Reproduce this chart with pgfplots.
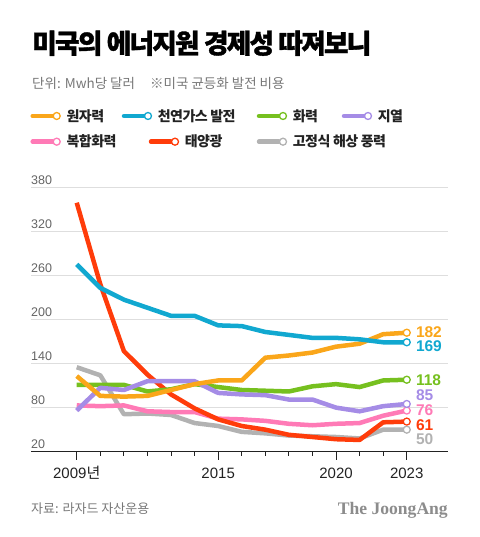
\documentclass[border=0pt]{standalone}
\usepackage{fontspec}
\usepackage{pgfplots}
\pgfplotsset{compat=1.18}
\setmainfont{Liberation Sans}
\newfontfamily\kr{Noto Sans CJK KR}
\newfontfamily\krt{Noto Sans CJK KR}[LetterSpace=-7, BoldFeatures={FakeBold=1.2}]
\newfontfamily\krl{Noto Sans CJK KR}[LetterSpace=-4]
\newfontfamily\logo{Liberation Serif}
\definecolor{corange}{RGB}{250,166,26}
\definecolor{cblue}{RGB}{17,168,208}
\definecolor{cgreen}{RGB}{118,192,31}
\definecolor{cpurple}{RGB}{165,140,230}
\definecolor{cpink}{RGB}{255,122,182}
\definecolor{cred}{RGB}{255,60,10}
\definecolor{cgray}{RGB}{178,178,178}
\definecolor{cgrid}{RGB}{222,222,222}
\definecolor{ctxt}{RGB}{34,34,34}
\definecolor{csub}{RGB}{120,120,120}
\begin{document}
\begin{tikzpicture}
\path[use as bounding box] (0bp,0bp) rectangle (480bp,537bp);
% title
\node[anchor=base west, inner sep=0pt, text=black] at (32bp,483.7bp) {\fontsize{26.8bp}{28bp}\krt\bfseries 미국의 에너지원 경제성 따져보니};
\node[anchor=base west, inner sep=0pt, text=csub] at (32bp,448bp) {\fontsize{13.5bp}{16bp}\kr 단위: Mwh당 달러};
\node[anchor=base west, inner sep=0pt, text=csub] at (150bp,448bp) {\fontsize{13.5bp}{16bp}\kr ※미국 균등화 발전 비용};
% legend
\newcommand{\legitem}[4]{%
  \draw[#1, line width=4.5bp, line cap=round] (#2+1bp,#3) -- (#2+21bp,#3);
  \draw[#1, fill=white, line width=1.3bp] (#2+25bp,#3) circle (3.5bp);
  \node[anchor=base west, inner sep=0pt, text=ctxt] at (#2+34.7bp,#3-5.3bp) {\fontsize{14bp}{16bp}\krl\bfseries #4};}
\legitem{corange}{31.7bp}{421bp}{원자력}
\legitem{cblue}{123bp}{421bp}{천연가스 발전}
\legitem{cgreen}{258bp}{421bp}{화력}
\legitem{cpurple}{343bp}{421bp}{지열}
\legitem{cpink}{31.7bp}{395.3bp}{복합화력}
\legitem{cred}{150bp}{395.3bp}{태양광}
\legitem{cgray}{258bp}{395.3bp}{고정식 해상 풍력}
% footer
\node[anchor=base west, inner sep=0pt, text=csub] at (31bp,23.9bp) {\fontsize{13bp}{15bp}\kr 자료: 라자드 자산운용};
\node[anchor=base east, inner sep=0pt, text={rgb,255:red,140;green,140;blue,140}] at (448bp,23bp) {\fontsize{17.6bp}{19bp}\logo\bfseries The JoongAng};
\begin{axis}[
  at={(31bp,85.3bp)}, anchor=south west,
  scale only axis, width=417bp, height=264.4bp,
  xmin=2007.06, xmax=2024.75, ymin=20, ymax=380,
  axis x line*=bottom, axis y line*=left,
  x axis line style={draw=ctxt, line width=1bp, -},
  y axis line style={draw=none},
  /pgf/number format/assume math mode=true,
  ytick={20,80,140,200,260,320,380},
  ytick style={draw=none},
  ymajorgrids, grid style={draw=cgrid, line width=1bp},
  yticklabel style={anchor=south west, inner sep=0pt, xshift=8bp, yshift=2.5bp, text={rgb,255:red,100;green,100;blue,100}, font=\fontsize{12.5bp}{14bp}\selectfont},
  xtick={2009,2015,2020,2023},
  xticklabels={2009{\kr 년},2015,2020,2023},
  minor xtick={2010,2011,2012,2013,2014,2016,2017,2018,2019,2021,2022},
  tick align=outside,
  major tick length=8bp, minor tick length=4bp,
  xtick style={draw=ctxt, line width=1bp},
  minor tick style={draw=ctxt, line width=1bp},
  xticklabel style={anchor=base, inner sep=0pt, yshift=-19bp, text=ctxt, font=\fontsize{15bp}{17bp}\selectfont},
  clip=false,
  every axis plot/.append style={line width=4.5bp, line join=round, mark=*, mark indices={15}, mark size=3.5bp},
]
\addplot[cgray, mark options={fill=white, draw=cgray, line width=1.3bp}] coordinates {(2009,135)(2010,124)(2011,71)(2012,72)(2013,70)(2014,59)(2015,55)(2016,47)(2017,45)(2018,42)(2019,41)(2020,40)(2021,38)(2022,50)(2023,50)}
  node[pos=1, anchor=west, inner sep=0pt, xshift=7bp, yshift=-9.6bp, text=cgray, font=\fontsize{15.5bp}{16bp}\selectfont\bfseries] {50};
\addplot[cpink, mark options={fill=white, draw=cpink, line width=1.3bp}] coordinates {(2009,83)(2010,82)(2011,83)(2012,75)(2013,74)(2014,74)(2015,65)(2016,64)(2017,62)(2018,58)(2019,56)(2020,58)(2021,59)(2022,69)(2023,76)}
  node[pos=1, anchor=west, inner sep=0pt, xshift=7bp, yshift=0bp, text=cpink, font=\fontsize{15.5bp}{16bp}\selectfont\bfseries] {76};
\addplot[cred, mark options={fill=white, draw=cred, line width=1.3bp}] coordinates {(2009,359)(2010,248)(2011,157)(2012,125)(2013,98)(2014,79)(2015,64)(2016,55)(2017,50)(2018,43)(2019,40)(2020,37)(2021,36)(2022,60)(2023,61)}
  node[pos=1, anchor=west, inner sep=0pt, xshift=7bp, yshift=-3.4bp, text=cred, font=\fontsize{15.5bp}{16bp}\selectfont\bfseries] {61};
\addplot[cgreen, mark options={fill=white, draw=cgreen, line width=1.3bp}] coordinates {(2009,111)(2010,111)(2011,111)(2012,102)(2013,105)(2014,112)(2015,108)(2016,104)(2017,103)(2018,102)(2019,109)(2020,112)(2021,108)(2022,117)(2023,118)}
  node[pos=1, anchor=west, inner sep=0pt, xshift=7bp, yshift=0bp, text=cgreen, font=\fontsize{15.5bp}{16bp}\selectfont\bfseries] {118};
\addplot[cpurple, mark options={fill=white, draw=cpurple, line width=1.3bp}] coordinates {(2009,76)(2010,107)(2011,104)(2012,116)(2013,116)(2014,116)(2015,100)(2016,98)(2017,97)(2018,91)(2019,91)(2020,80)(2021,75)(2022,82)(2023,85)}
  node[pos=1, anchor=west, inner sep=0pt, xshift=7bp, yshift=8.3bp, text=cpurple, font=\fontsize{15.5bp}{16bp}\selectfont\bfseries] {85};
\addplot[corange, mark options={fill=white, draw=corange, line width=1.3bp}] coordinates {(2009,123)(2010,96)(2011,95)(2012,96)(2013,104)(2014,112)(2015,117)(2016,117)(2017,148)(2018,151)(2019,155)(2020,163)(2021,167)(2022,180)(2023,182)}
  node[pos=1, anchor=west, inner sep=0pt, xshift=7bp, yshift=1bp, text=corange, font=\fontsize{15.5bp}{16bp}\selectfont\bfseries] {182};
\addplot[cblue, mark options={fill=white, draw=cblue, line width=1.3bp}] coordinates {(2009,275)(2010,243)(2011,227)(2012,216)(2013,205)(2014,205)(2015,192)(2016,191)(2017,183)(2018,179)(2019,175)(2020,175)(2021,173)(2022,169)(2023,169)}
  node[pos=1, anchor=west, inner sep=0pt, xshift=7bp, yshift=-4bp, text=cblue, font=\fontsize{15.5bp}{16bp}\selectfont\bfseries] {169};
\end{axis}
\end{tikzpicture}
\end{document}
